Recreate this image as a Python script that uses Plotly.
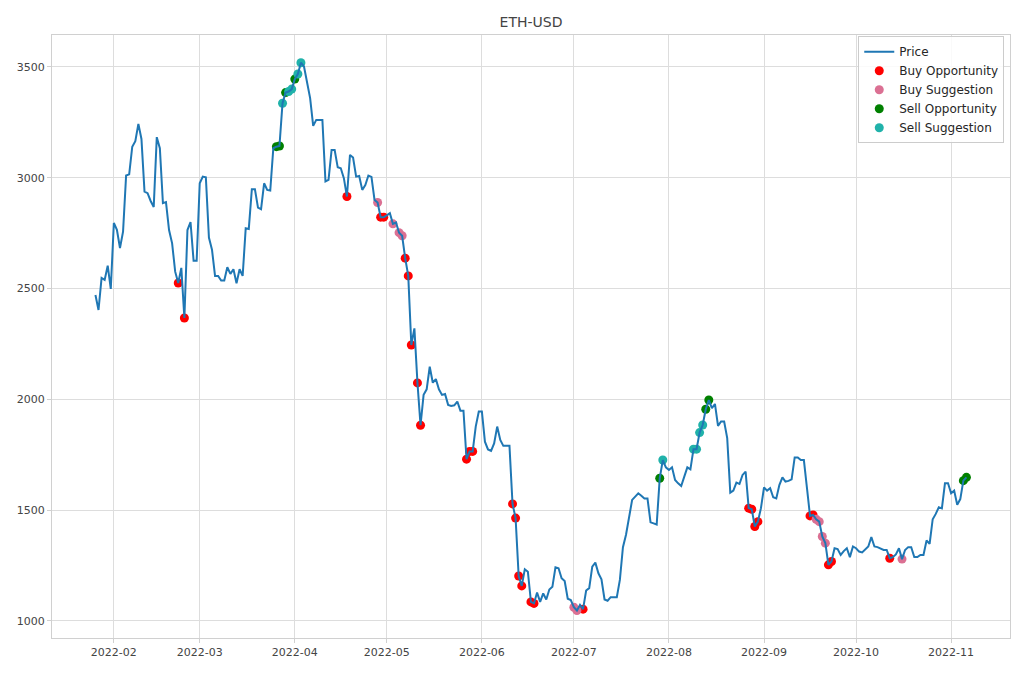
import plotly.graph_objects as go
import pandas as pd

# ---- data (daily close) ----
start_date = "2022-01-26"
price_jan = [2471, 2403, 2548, 2539, 2603, 2498]
price_feb = [2796, 2765, 2683, 2757, 3010, 3015, 3140, 3165, 3243, 3175,
             2937, 2930, 2895, 2868, 3183, 3133, 2885, 2890, 2764, 2704,
             2576, 2525, 2593, 2367, 2764, 2800, 2625, 2625]
price_mar = [2975, 3005, 3002, 2730, 2675, 2557, 2557, 2536, 2536, 2596,
             2566, 2587, 2524, 2587, 2557, 2772, 2769, 2948, 2948, 2865,
             2858, 2975, 2945, 2942, 3133, 3140, 3143, 3336, 3384, 3389, 3400]
price_apr = [3445, 3468, 3519, 3502, 3426, 3359, 3234, 3261, 3261, 3261,
             2983, 2990, 3125, 3125, 3047, 3043, 2998, 2915, 3103, 3091,
             3005, 3008, 2945, 2967, 3010, 3004, 2900, 2888, 2822, 2822]
price_may = [2830, 2840, 2792, 2798, 2752, 2738, 2637, 2557, 2245, 2320,
             2074, 1883, 2020, 2045, 2147, 2075, 2091, 2045, 2020, 2024,
             1975, 1970, 1973, 1990, 1949, 1949, 1730, 1765, 1765, 1877, 1945]
price_jun = [1945, 1809, 1774, 1767, 1801, 1877, 1817, 1790, 1790, 1790,
             1528, 1464, 1203, 1158, 1233, 1222, 1086, 1079, 1128, 1086,
             1124, 1097, 1142, 1154, 1242, 1238, 1193, 1180, 1100, 1094]
price_jul = [1062, 1047, 1072, 1053, 1137, 1148, 1245, 1263, 1215, 1188,
             1097, 1091, 1107, 1107, 1107, 1185, 1333, 1389, 1470, 1546,
             1561, 1576, 1565, 1553, 1553, 1445, 1440, 1435, 1644, 1726, 1693]
price_aug = [1681, 1693, 1636, 1621, 1609, 1651, 1693, 1684, 1775, 1775,
             1850, 1884, 1955, 1997, 1960, 1979, 1880, 1900, 1900, 1825,
             1579, 1588, 1624, 1618, 1659, 1674, 1509, 1504, 1426, 1448, 1509]
price_sep = [1603, 1588, 1599, 1558, 1553, 1613, 1648, 1629, 1632, 1639,
             1738, 1738, 1726, 1726, 1600, 1474, 1478, 1459, 1448, 1381,
             1351, 1253, 1268, 1328, 1324, 1298, 1315, 1328, 1288, 1336]
price_oct = [1328, 1313, 1309, 1324, 1336, 1378, 1336, 1333, 1328, 1320,
             1320, 1283, 1288, 1300, 1328, 1279, 1320, 1333, 1333, 1288,
             1288, 1298, 1298, 1363, 1348, 1459, 1483, 1513, 1508, 1621, 1621]
price_nov = [1576, 1588, 1524, 1550, 1633, 1648]

buy_opportunity = ["2022-02-22", "2022-02-24", "2022-04-18", "2022-04-29", "2022-04-30",
                   "2022-05-07", "2022-05-08", "2022-05-09", "2022-05-11", "2022-05-12",
                   "2022-05-27", "2022-05-28", "2022-05-29", "2022-06-11", "2022-06-12",
                   "2022-06-13", "2022-06-14", "2022-06-17", "2022-06-18", "2022-07-04",
                   "2022-08-27", "2022-08-28", "2022-08-29", "2022-08-30", "2022-09-16",
                   "2022-09-17", "2022-09-22", "2022-09-23", "2022-10-12"]
buy_suggestion = ["2022-04-28", "2022-05-03", "2022-05-05", "2022-05-06", "2022-07-01",
                  "2022-07-02", "2022-09-18", "2022-09-19", "2022-09-20", "2022-09-21",
                  "2022-10-16"]
sell_opportunity = ["2022-03-26", "2022-03-27", "2022-03-29", "2022-04-01", "2022-07-29",
                    "2022-08-13", "2022-08-14", "2022-11-05", "2022-11-06"]
sell_suggestion = ["2022-03-28", "2022-03-30", "2022-03-31", "2022-04-02", "2022-04-03",
                   "2022-07-30", "2022-08-09", "2022-08-10", "2022-08-11", "2022-08-12"]

y_ticks = [1000, 1500, 2000, 2500, 3000, 3500]

# ---- build ----
prices = (price_jan + price_feb + price_mar + price_apr + price_may + price_jun +
          price_jul + price_aug + price_sep + price_oct + price_nov)
dates = pd.date_range(start_date, periods=len(prices), freq="D")
series = pd.Series(prices, index=dates)

fig = go.Figure()

def add_markers(day_list, name, color, rank):
    d = pd.to_datetime(day_list)
    fig.add_trace(go.Scatter(x=d, y=series.loc[d].values, mode="markers", name=name,
                             legendrank=rank,
                             marker=dict(color=color, size=9, line=dict(width=0))))

# markers drawn first so the price line sits on top of them
add_markers(buy_opportunity, "Buy Opportunity", "#ff0000", 2)
add_markers(buy_suggestion, "Buy Suggestion", "#db7093", 3)
add_markers(sell_opportunity, "Sell Opportunity", "#008000", 4)
add_markers(sell_suggestion, "Sell Suggestion", "#20b2aa", 5)
fig.add_trace(go.Scatter(x=dates, y=prices, mode="lines", name="Price", legendrank=1,
                         line=dict(color="#1f77b4", width=2)))

font = "DejaVu Sans"
axis_common = dict(showgrid=True, gridcolor="#dddddd", gridwidth=1,
                   showline=True, linecolor="#d0d0d0", linewidth=1, mirror=True,
                   zeroline=False, ticks="outside", ticklen=4, tickcolor="#d0d0d0",
                   tickfont=dict(family=font, size=11, color="#444444"))

fig.update_layout(
    width=1020, height=680,
    margin=dict(l=52, r=10, t=35, b=42),
    paper_bgcolor="white", plot_bgcolor="white",
    title=dict(text="ETH-USD", x=0.5, xref="paper", xanchor="center",
               y=1 - 22 / 680, yref="container", yanchor="middle",
               font=dict(family=font, size=14, color="#444444")),
    legend=dict(x=0.994, y=0.998, xanchor="right", yanchor="top",
                bgcolor="rgba(255,255,255,0.85)", bordercolor="#cccccc", borderwidth=1,
                font=dict(family=font, size=12, color="#262626"),
                tracegroupgap=0, traceorder="normal"),
    showlegend=True,
)
fig.update_xaxes(range=["2022-01-11 20:00", "2022-11-20 05:00"],
                 dtick="M1", tick0="2022-02-01", tickformat="%Y-%m", **axis_common)
fig.update_yaxes(range=[923, 3644], tickvals=y_ticks, **axis_common)

fig.write_html("out.html")
